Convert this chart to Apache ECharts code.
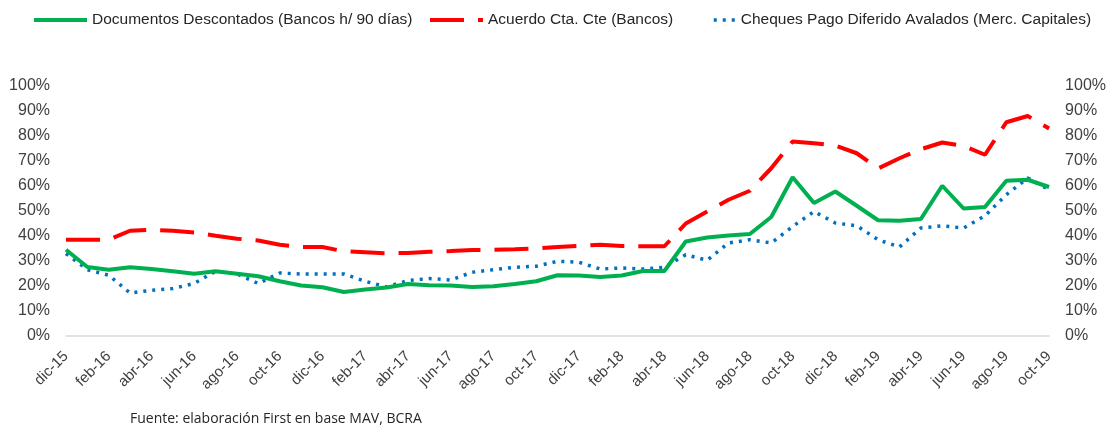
<!DOCTYPE html>
<html>
<head>
<meta charset="utf-8">
<script src="https://cdn.jsdelivr.net/npm/echarts@6/dist/echarts.min.js"></script>
<style>
  html, body { margin: 0; padding: 0; background: #fff; }
  #chart { width: 1109px; height: 430px; }
</style>
</head>
<body>
<div id="chart"></div>
<script>
// meses (dic-15 .. oct-19)
const months = [
  'dic-15', 'ene-16', 'feb-16', 'mar-16', 'abr-16', 'may-16', 'jun-16', 'jul-16', 'ago-16', 'sep-16', 'oct-16', 'nov-16',
  'dic-16', 'ene-17', 'feb-17', 'mar-17', 'abr-17', 'may-17', 'jun-17', 'jul-17', 'ago-17', 'sep-17', 'oct-17', 'nov-17',
  'dic-17', 'ene-18', 'feb-18', 'mar-18', 'abr-18', 'may-18', 'jun-18', 'jul-18', 'ago-18', 'sep-18', 'oct-18', 'nov-18',
  'dic-18', 'ene-19', 'feb-19', 'mar-19', 'abr-19', 'may-19', 'jun-19', 'jul-19', 'ago-19', 'sep-19', 'oct-19'
];

// tasas en %
const documentos = [
  34.5, 27.6, 26.5, 27.5, 26.8, 25.9, 24.9, 25.9, 24.9, 23.9, 21.9, 20.2,
  19.5, 17.6, 18.6, 19.4, 20.8, 20.3, 20.2, 19.6, 19.9, 20.8, 21.9, 24.3,
  24.2, 23.6, 24.2, 26.0, 26.0, 37.8, 39.4, 40.2, 40.8, 47.6, 63.5, 53.2,
  57.8, 52.1, 46.3, 46.1, 46.8, 60.1, 51.0, 51.6, 62.1, 62.5, 59.6
];
const acuerdo = [
  38.5, 38.5, 38.5, 42.1, 42.5, 42.1, 41.4, 40.1, 38.9, 38.2, 36.5, 35.6,
  35.6, 33.9, 33.5, 33.1, 33.2, 33.7, 34.0, 34.4, 34.5, 34.7, 35.0, 35.6,
  36.0, 36.5, 36.0, 35.9, 35.9, 45.0, 49.8, 54.5, 58.1, 67.1, 77.8, 77.1,
  76.2, 73.1, 67.0, 71.1, 74.7, 77.4, 76.0, 72.5, 85.5, 88.0, 83.0
];
const cheques = [
  33.0, 26.5, 24.3, 17.2, 18.3, 19.0, 21.0, 25.9, 24.8, 21.0, 25.2, 24.8,
  24.8, 24.8, 21.9, 19.6, 22.2, 23.0, 22.4, 25.5, 26.5, 27.5, 27.9, 29.9,
  29.5, 26.8, 27.2, 26.8, 27.5, 32.5, 30.3, 37.2, 38.5, 37.2, 43.8, 49.8,
  45.2, 44.1, 38.5, 35.6, 43.2, 44.1, 43.2, 48.1, 56.5, 63.2, 58.5
];

const names = [
  'Documentos Descontados (Bancos h/ 90 días)',
  'Acuerdo Cta. Cte (Bancos)',
  'Cheques Pago Diferido Avalados (Merc. Capitales)'
];

const FONT = 'Liberation Sans';
const dashRed = [34, 14];
const dotBlue = [3, 6];

const chart = echarts.init(document.getElementById('chart'));

// una leyenda por serie para poder ubicarlas como en el original
const legendBase = {
  top: 12,
  padding: 0,
  itemHeight: 14,
  itemStyle: { opacity: 0 },
  textStyle: { fontSize: 15.5, color: '#262626', fontFamily: FONT }
};

chart.setOption({
  animation: false,
  textStyle: { fontFamily: FONT, color: '#404040' },
  legend: [
    Object.assign({}, legendBase, {
      left: 32, itemWidth: 53,
      data: [{ name: names[0], lineStyle: { width: 4, color: '#00b050' } }]
    }),
    Object.assign({}, legendBase, {
      left: 428, itemWidth: 53,
      data: [{ name: names[1], lineStyle: { width: 4, color: '#ff0000', type: dashRed } }]
    }),
    Object.assign({}, legendBase, {
      left: 712, itemWidth: 22,
      data: [{ name: names[2], lineStyle: { width: 3.5, color: '#0070c0', type: dotBlue } }]
    })
  ],
  grid: {
    left: 66,
    right: 57,
    top: 86,
    bottom: 94
  },
  xAxis: {
    type: 'category',
    data: months,
    boundaryGap: false,
    axisLine: { lineStyle: { color: '#d9d9d9', width: 1.5 } },
    axisTick: { show: false },
    axisLabel: {
      interval: 1,
      rotate: 45,
      fontSize: 15,
      color: '#404040',
      margin: 18
    },
    splitLine: { show: false }
  },
  yAxis: [
    {
      type: 'value',
      min: 0,
      max: 100,
      interval: 10,
      axisLine: { show: false },
      axisTick: { show: false },
      splitLine: { show: false },
      axisLabel: { formatter: '{value}%', fontSize: 16, color: '#404040', margin: 16 }
    },
    {
      type: 'value',
      position: 'right',
      min: 0,
      max: 100,
      interval: 10,
      axisLine: { show: false },
      axisTick: { show: false },
      splitLine: { show: false },
      axisLabel: { formatter: '{value}%', fontSize: 16, color: '#404040', margin: 16 }
    }
  ],
  series: [
    {
      name: names[0],
      type: 'line',
      data: documentos,
      symbol: 'none',
      itemStyle: { color: '#00b050' },
      lineStyle: { color: '#00b050', width: 4 },
      z: 3
    },
    {
      name: names[1],
      type: 'line',
      data: acuerdo,
      symbol: 'none',
      itemStyle: { color: '#ff0000' },
      lineStyle: { color: '#ff0000', width: 4, type: dashRed },
      z: 2
    },
    {
      name: names[2],
      type: 'line',
      data: cheques,
      symbol: 'none',
      itemStyle: { color: '#0070c0' },
      lineStyle: { color: '#0070c0', width: 3.5, type: dotBlue },
      z: 1
    }
  ],
  graphic: [
    {
      type: 'text',
      left: 130,
      top: 412,
      style: {
        text: 'Fuente: elaboración First en base MAV, BCRA',
        font: '14px "Open Sans"',
        fill: '#262626'
      }
    }
  ]
});

window.addEventListener('resize', function () {
  chart.resize();
});
</script>
</body>
</html>
